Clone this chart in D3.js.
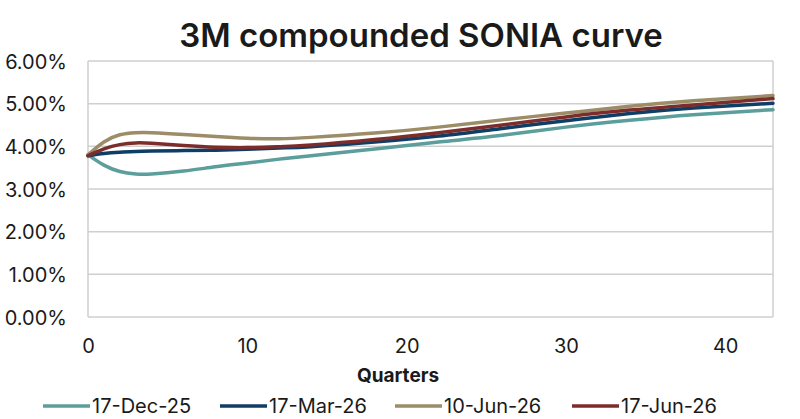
<!DOCTYPE html>
<html>
<head>
<meta charset="utf-8">
<script src="https://cdn.jsdelivr.net/npm/d3@7"></script>
<style>
  body { margin: 0; background: #fff; }
  text { font-family: Inter, "Noto Sans", sans-serif; fill: #1a1a1a; }
</style>
</head>
<body>
<script>
const width = 800;
const height = 419;

const quarters = [0, 1, 2, 3, 4, 6, 8, 10, 12, 14, 18, 22, 26, 30, 34, 38, 43];

const dec25 = [3.80, 3.56, 3.41, 3.35, 3.35, 3.42, 3.52, 3.61, 3.70, 3.78, 3.94, 4.10, 4.26, 4.45, 4.61, 4.74, 4.86];
const mar26 = [3.78, 3.83, 3.86, 3.88, 3.89, 3.90, 3.91, 3.93, 3.96, 3.99, 4.10, 4.24, 4.42, 4.60, 4.77, 4.90, 5.01];
const jun10 = [3.80, 4.10, 4.27, 4.32, 4.32, 4.28, 4.23, 4.19, 4.18, 4.21, 4.31, 4.45, 4.62, 4.78, 4.94, 5.07, 5.19];
const jun17 = [3.78, 3.94, 4.04, 4.08, 4.07, 4.02, 3.98, 3.97, 3.99, 4.03, 4.16, 4.32, 4.50, 4.69, 4.85, 4.97, 5.12];

const seriesNames = ['17-Dec-25', '17-Mar-26', '10-Jun-26', '17-Jun-26'];
const seriesValues = [dec25, mar26, jun10, jun17];
const colors = ['#5c9e9b', '#0e3d66', '#9c8c67', '#7c2d2b'];

const yTicks = [0, 1, 2, 3, 4, 5, 6];
const xTicks = [0, 10, 20, 30, 40];

const m = {left: 88, right: 27, top: 61, bottom: 102};

const svg = d3.select('body').append('svg').attr('width', width).attr('height', height);

const x = d3.scaleLinear().domain([0, 43]).range([m.left, width - m.right]);
const y = d3.scaleLinear().domain([0, 6]).range([height - m.bottom, m.top]);

// title
svg.append('text')
  .attr('x', 421).attr('y', 47)
  .attr('text-anchor', 'middle')
  .style('font-size', '33px').style('font-weight', 600)
  .text('3M compounded SONIA curve');

// gridlines
svg.append('g')
  .selectAll('line')
  .data(yTicks)
  .enter().append('line')
  .attr('x1', m.left).attr('x2', width - m.right)
  .attr('y1', d => y(d)).attr('y2', d => y(d))
  .style('stroke', '#cfcfcf').style('stroke-width', 1.5);

// plot border sides
svg.append('line')
  .attr('x1', m.left).attr('x2', m.left)
  .attr('y1', y(6)).attr('y2', y(0))
  .style('stroke', '#cfcfcf').style('stroke-width', 1.5);
svg.append('line')
  .attr('x1', width - m.right).attr('x2', width - m.right)
  .attr('y1', y(6)).attr('y2', y(0))
  .style('stroke', '#cfcfcf').style('stroke-width', 1.5);

// y axis labels
const yAxis = d3.axisLeft(y).tickValues(yTicks).tickSize(0).tickPadding(21)
  .tickFormat(d => d.toFixed(2) + '%');
svg.append('g')
  .attr('transform', 'translate(' + m.left + ',0)')
  .call(yAxis)
  .call(g => g.select('.domain').remove())
  .selectAll('text')
  .style('font-size', '20px')
  .attr('dy', '0.35em');

// x axis labels
const xAxis = d3.axisBottom(x).tickValues(xTicks).tickSize(0).tickPadding(22);
svg.append('g')
  .attr('transform', 'translate(0,' + y(0) + ')')
  .call(xAxis)
  .call(g => g.select('.domain').remove())
  .selectAll('text')
  .style('font-size', '20px');

svg.append('text')
  .attr('x', 398).attr('y', 382)
  .attr('text-anchor', 'middle')
  .style('font-size', '19px').style('font-weight', 700)
  .text('Quarters');

// curves
const line = d3.line()
  .x((d, i) => x(quarters[i]))
  .y(d => y(d))
  .curve(d3.curveNatural);

svg.append('g')
  .selectAll('path')
  .data(seriesValues)
  .enter().append('path')
  .attr('d', d => line(d))
  .style('fill', 'none')
  .style('stroke', (d, i) => colors[i])
  .style('stroke-width', 3.5)
  .style('stroke-linecap', 'round');

// legend
const legendX = [43, 220, 395, 572];
const leg = svg.append('g')
  .selectAll('g')
  .data(seriesNames)
  .enter().append('g')
  .attr('transform', (d, i) => 'translate(' + legendX[i] + ',406)');
leg.append('line')
  .attr('x1', 0).attr('x2', 47)
  .style('stroke', (d, i) => colors[i]).style('stroke-width', 3.5);
leg.append('text')
  .attr('x', 49).attr('dy', '0.35em')
  .style('font-size', '20px')
  .text(d => d);
</script>
</body>
</html>
